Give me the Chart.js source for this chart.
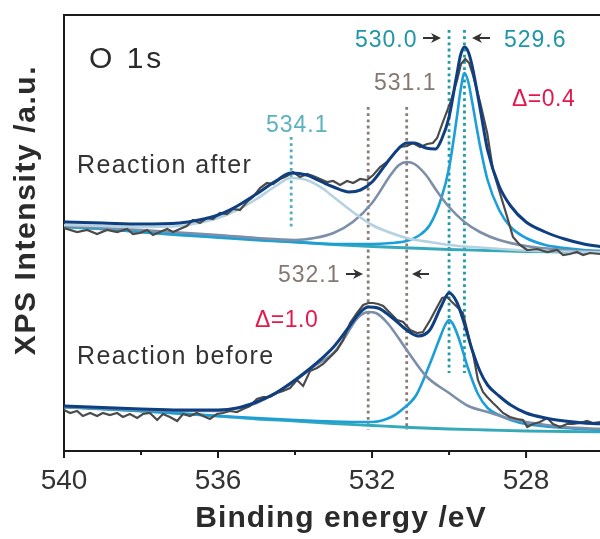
<!DOCTYPE html>
<html>
<head>
<meta charset="utf-8">
<script src="https://cdn.jsdelivr.net/npm/chart.js@4"></script>
<style>
  body { margin: 0; background: #fff; }
</style>
</head>
<body>
<canvas id="xps" width="600" height="539"></canvas>
<script>
// O 1s spectra, [binding energy eV, intensity a.u.]
const afterRaw = [[540.00,223],[539.66,219],[539.40,221],[539.14,217],[538.88,221],[538.62,219],[538.36,222],[538.21,217],[538.03,218],[537.84,221],[537.69,216],[537.51,219],[537.32,222],[537.17,219],[536.99,222],[536.81,225],[536.65,231],[536.47,228],[536.29,233],[536.13,232],[535.95,238],[535.77,237],[535.61,242],[535.43,241],[535.25,249],[535.09,254],[534.91,263],[534.73,268],[534.57,267],[534.39,272],[534.21,275],[534.05,279],[533.87,274],[533.69,277],[533.53,275],[533.35,272],[533.17,269],[533.01,270],[532.83,266],[532.65,270],[532.49,268],[532.31,272],[532.13,271],[531.97,276],[531.79,284],[531.61,289],[531.45,296],[531.27,304],[531.09,305],[530.94,308],[530.75,304],[530.57,307],[530.42,308],[530.31,313],[530.16,329],[529.97,348],[529.79,371],[529.69,387],[529.58,392],[529.48,388],[529.38,376],[529.19,348],[529.01,318],[528.86,281],[528.68,258],[528.49,234],[528.34,214],[528.16,206],[527.97,201],[527.71,202],[527.45,199],[527.19,201],[527.04,196],[526.86,197],[526.68,199],[526.52,196],[526.34,198],[526.08,197]]
const afterBase = [[540,224],[539,222],[538,219],[537,216],[536,213.5],[535,211],[534,209],[533,206.5],[532,204.5],[531,203],[530,201.5],[529,200.5],[528,199.5],[527,199],[526,198.5]]
const afterPeak534 = [[540,226],[539,225],[538,224],[537,225],[536.5,228],[536,233],[535.5,241],[535,252],[534.5,265],[534.1,273],[533.7,271],[533.3,263],[533,254],[532.5,239],[532,226],[531.5,218],[531,212],[530.5,209],[530,206],[529,203],[528,200.5],[527,199.5],[526,198.5]]
const afterPeak531 = [[540,225],[538,221],[536,216],[535,213],[534,211],[533.5,213],[533,218],[532.5,229],[532,248],[531.5,277],[531.3,286],[531.1,289],[530.9,287],[530.6,276],[530.3,259],[530,244],[529.6,229],[529.2,219],[528.7,211],[528,205],[527,201],[526,199]]
const afterPeak529 = [[540,225],[538,219],[536,214],[534,209],[533,207],[532,207],[531.5,208],[531.1,210],[530.8,215],[530.5,226],[530.2,253],[530,283],[529.8,333],[529.7,361],[529.6,378],[529.5,369],[529.4,349],[529.2,306],[529,271],[528.7,241],[528.4,224],[528,213],[527.5,206],[527,203],[526.5,201],[526,200]]
const afterFit = [[540,229],[539,228],[538,227],[537,228],[536.5,231],[536,236],[535.5,245],[535,257],[534.5,270],[534.1,278],[533.7,276],[533.3,269],[533,264],[532.6,259],[532.3,261],[532,269],[531.6,289],[531.3,303],[531.1,308],[530.9,308],[530.6,303],[530.35,302],[530.2,311],[530,334],[529.8,376],[529.7,396],[529.6,404],[529.5,399],[529.4,385],[529.2,344],[529,301],[528.7,265],[528.4,245],[528,229],[527.5,219],[527,212],[526.5,207],[526,204]]

const beforeRaw = [[540.00,41],[539.84,38],[539.66,40],[539.51,35],[539.32,38],[539.14,35],[538.99,38],[538.81,36],[538.62,38],[538.47,34],[538.29,37],[538.10,33],[537.95,37],[537.77,38],[537.58,31],[537.43,37],[537.25,34],[537.06,30],[536.91,37],[536.73,35],[536.55,38],[536.39,35],[536.21,32],[536.03,37],[535.87,38],[535.69,40],[535.51,39],[535.35,42],[535.17,45],[534.99,52],[534.83,54],[534.65,54],[534.47,58],[534.31,60],[534.13,63],[533.95,71],[533.79,65],[533.61,80],[533.43,83],[533.27,87],[533.09,94],[532.91,101],[532.75,111],[532.57,128],[532.39,138],[532.23,146],[532.10,148],[531.97,148],[531.84,147],[531.71,145],[531.53,138],[531.35,131],[531.19,129],[531.01,121],[530.83,118],[530.68,119],[530.49,131],[530.31,144],[530.18,153],[530.05,154],[529.95,150],[529.79,144],[529.64,138],[529.53,121],[529.45,108],[529.38,98],[529.25,71],[529.12,59],[529.01,54],[528.86,48],[528.75,44],[528.60,38],[528.42,34],[528.23,32],[528.08,31],[527.97,24],[527.82,27],[527.64,29],[527.45,33],[527.30,27],[527.12,24],[526.94,27],[526.78,27],[526.60,28],[526.42,30],[526.26,28],[526.08,29]]
const beforeBase = [[540,44],[539,42],[538,40],[537,37.5],[536,35],[535,32],[534,30],[533,27.5],[532,25.5],[531,23.5],[530,22],[529,21],[528,20],[527,19.5],[526,19]]
const beforePeak532 = [[540,44],[539,42.5],[538,41],[537,40],[536,40],[535.5,43],[535,48],[534.5,58],[534,70],[533.5,85],[533,98],[532.7,114],[532.4,132],[532.1,139],[531.9,138],[531.6,128],[531.1,101],[530.6,75],[530,58],[529.5,45],[529,39],[528.5,33],[528,29],[527,24],[526,22]]
const beforePeak530 = [[540,44],[538,40],[536,35],[534,31],[533,29.5],[532,29],[531.5,34],[531.2,42],[530.85,56],[530.5,87],[530.25,112],[530.1,126],[530,131],[529.9,127],[529.75,113],[529.5,82],[529.25,57],[529,43],[528.7,36],[528.4,31],[528,27],[527,23],[526,21]]
const beforeFit = [[540,45],[539,43.5],[538,42],[537,41],[536,41],[535.5,43],[535,49],[534.5,58],[534,71],[533.5,86],[533,104],[532.6,124],[532.3,139],[532.1,144],[531.85,143],[531.5,134],[531.1,121],[530.8,115],[530.5,121],[530.2,145],[530,158],[529.8,149],[529.6,127],[529.4,101],[529.2,80],[529,66],[528.7,55],[528.4,46],[528,38],[527.5,33],[527,30],[526.5,28],[526,27]]

// peak position markers: energy, top, bottom
const markers = [[534.1, 314, 221], [532.1, 344, 21], [531.1, 344, 21], [530.0, 421, 78], [529.6, 421, 78]]
const markerColors = ['#4fb0bd', '#8a7d74', '#8a7d74', '#1e9ba6', '#1e9ba6']
const xTicks = [540, 536, 532, 528]

const FONT = "'Liberation Sans', Arial, sans-serif"
Chart.defaults.font.family = FONT

const toXY = arr => arr.map(p => ({ x: p[0], y: p[1] }))

const curve = (data, color, width, order, smooth) => ({
    data: toXY(data),
    borderColor: color,
    borderWidth: width,
    pointRadius: 0,
    fill: false,
    order: order,
    cubicInterpolationMode: smooth ? 'monotone' : 'default',
    tension: 0
})

const datasets = [
    curve(afterFit, '#0f3f80', 3, 1, true),
    curve(beforeFit, '#0f3f80', 3, 1, true),
    curve(afterRaw, '#4b4b4b', 2.2, 2, false),
    curve(beforeRaw, '#4b4b4b', 2.2, 2, false),
    curve(afterPeak534, '#b5d2e2', 2.6, 3, true),
    curve(afterPeak531, '#7c8ea8', 2.6, 3, true),
    curve(afterPeak529, '#1c9fd9', 2.6, 3, true),
    curve(beforePeak532, '#7c8ea8', 2.6, 3, true),
    curve(beforePeak530, '#1c9fd9', 2.6, 3, true),
    curve(afterBase, '#35a9b9', 2.8, 4, true),
    curve(beforeBase, '#35a9b9', 2.8, 4, true)
]
markers.forEach((m, i) => {
    datasets.push({
        data: [{ x: m[0], y: m[1] }, { x: m[0], y: m[2] }],
        borderColor: markerColors[i],
        borderWidth: 2.8,
        borderDash: [2.8, 3.4],
        pointRadius: 0,
        order: 5
    })
})

const arrow = (ctx, x1, x2, y) => {
    const d = Math.sign(x2 - x1)
    ctx.beginPath()
    ctx.moveTo(x1, y)
    ctx.lineTo(x2 - d * 6, y)
    ctx.stroke()
    ctx.beginPath()
    ctx.moveTo(x2, y)
    ctx.lineTo(x2 - d * 10, y - 5)
    ctx.lineTo(x2 - d * 7, y)
    ctx.lineTo(x2 - d * 10, y + 5)
    ctx.closePath()
    ctx.fill()
}

const label = (ctx, text, x, y, color, font, spacing) => {
    ctx.font = font
    ctx.fillStyle = color
    ctx.letterSpacing = (spacing || 0) + 'px'
    ctx.fillText(text, x, y)
}

const decorations = {
    id: 'decorations',
    afterDraw(chart) {
        const ctx = chart.ctx
        const area = chart.chartArea
        const xs = chart.scales.x
        ctx.save()
        // top frame
        ctx.strokeStyle = '#1a1a1a'
        ctx.lineWidth = 2
        ctx.beginPath()
        ctx.moveTo(area.left - 1, area.top)
        ctx.lineTo(area.right, area.top)
        ctx.stroke()
        // tick marks, long on labelled ticks
        xs.ticks.forEach(t => {
            if (t.value % 2 !== 0) return
            const px = xs.getPixelForValue(t.value)
            const len = t.value % 4 === 0 ? 7 : 4
            ctx.beginPath()
            ctx.moveTo(px, area.bottom)
            ctx.lineTo(px, area.bottom + len)
            ctx.stroke()
        })
        ctx.textAlign = 'left'
        ctx.textBaseline = 'alphabetic'
        label(ctx, 'O 1s', 89, 68, '#2b2b2b', '30px ' + FONT, 3)
        label(ctx, 'Reaction after', 77, 173, '#333', '25px ' + FONT, 1.4)
        label(ctx, 'Reaction before', 77, 364, '#333', '25px ' + FONT, 1.4)
        const num = '23px ' + FONT
        label(ctx, '530.0', 355, 47, '#1f97a6', num, 1)
        label(ctx, '529.6', 504, 47, '#1f97a6', num, 1)
        label(ctx, '531.1', 374, 90, '#857872', num, 1)
        label(ctx, '534.1', 266, 132, '#5bb1c0', num, 1)
        label(ctx, '532.1', 278, 282, '#857872', num, 1)
        label(ctx, 'Δ=0.4', 512, 106, '#e5184a', num, 0.5)
        label(ctx, 'Δ=1.0', 255, 327, '#e5184a', num, 0.5)
        ctx.strokeStyle = '#333'
        ctx.fillStyle = '#333'
        ctx.lineWidth = 2
        arrow(ctx, 423, 441, 38)
        arrow(ctx, 490, 472, 38)
        arrow(ctx, 346, 363, 274)
        arrow(ctx, 429, 412, 274)
        // axis titles
        ctx.textAlign = 'center'
        label(ctx, 'Binding energy /eV', 341, 527, '#2b2b2b', 'bold 30px ' + FONT, 1.1)
        ctx.translate(35, 210)
        ctx.rotate(-Math.PI / 2)
        label(ctx, 'XPS Intensity /a.u.', 0, 0, '#2b2b2b', 'bold 30px ' + FONT, 1.6)
        ctx.restore()
    }
}

new Chart(document.getElementById('xps'), {
    type: 'line',
    data: { datasets: datasets },
    plugins: [decorations],
    options: {
        responsive: false,
        animation: false,
        devicePixelRatio: 1,
        layout: { padding: { left: 64, top: 15, right: 0, bottom: 0 } },
        plugins: { legend: { display: false }, tooltip: { enabled: false } },
        scales: {
            x: {
                type: 'linear',
                reverse: true,
                min: 526.08,
                max: 540,
                afterFit: s => { s.height = 88 },
                grid: { display: false, drawTicks: false },
                border: { display: true, color: '#1a1a1a', width: 2 },
                ticks: {
                    stepSize: 2,
                    includeBounds: false,
                    autoSkip: false,
                    maxRotation: 0,
                    padding: 13,
                    color: '#333',
                    font: { size: 28 },
                    callback: v => xTicks.includes(v) ? String(v) : ''
                }
            },
            y: {
                min: 0,
                max: 436,
                afterFit: s => { s.width = 0 },
                grid: { display: false, drawTicks: false },
                border: { display: true, color: '#1a1a1a', width: 2 },
                ticks: { display: false }
            }
        }
    }
})
</script>
</body>
</html>
